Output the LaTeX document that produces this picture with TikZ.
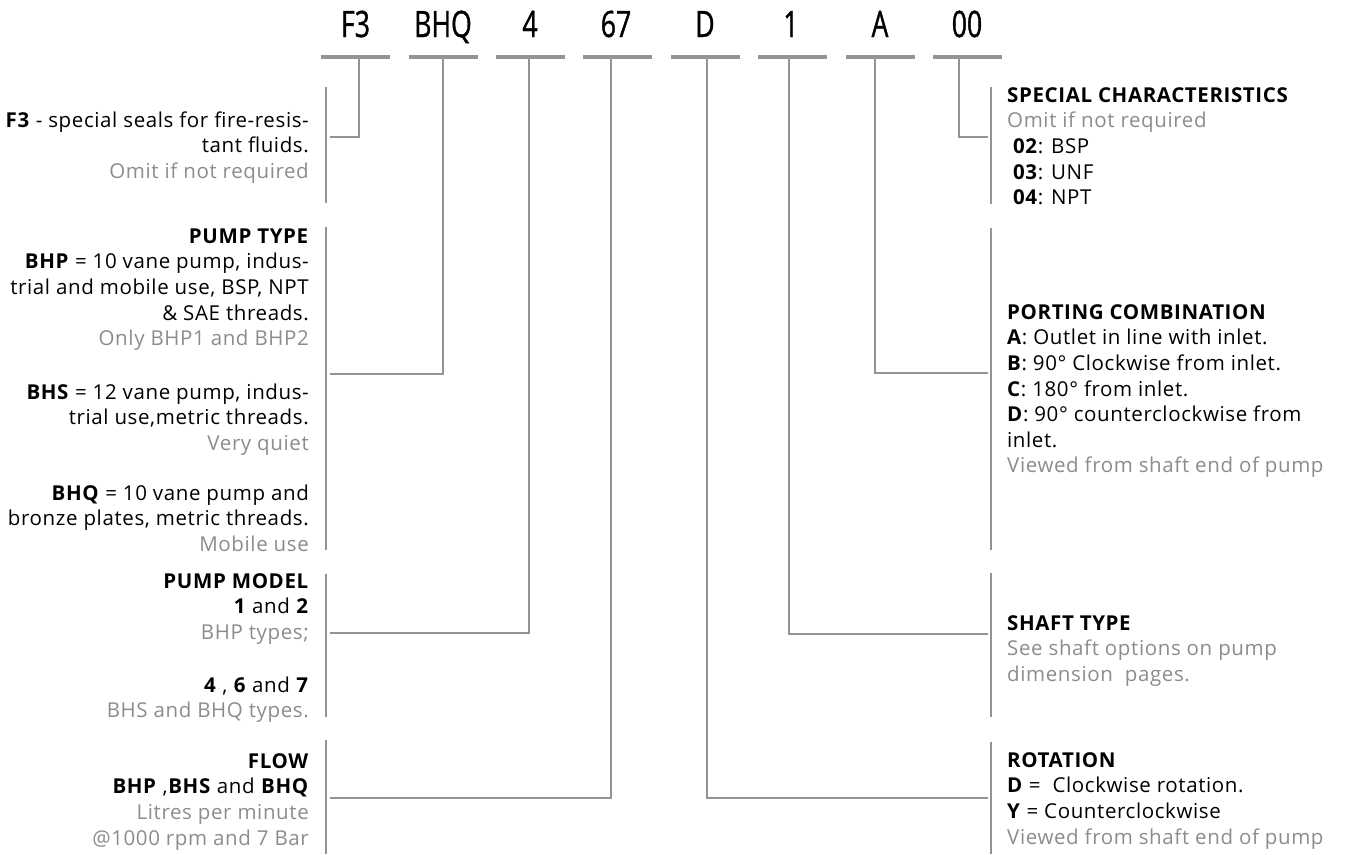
\documentclass[tikz,border=0pt]{standalone}
\usepackage{fontspec}
\setmainfont{Open Sans}[LetterSpace=3]
\newfontfamily\codefont{Open Sans}[FakeStretch=0.73,FakeBold=1]
\usepackage{tikz}
\definecolor{txtgrey}{HTML}{8C8C8C}
\definecolor{linegrey}{HTML}{949494}
\newcommand{\gr}[1]{\textcolor{txtgrey}{#1}}
\newcommand{\fl}{\rule{0pt}{16.5pt}}

\begin{document}
\begin{tikzpicture}[x=1pt,y=-1pt,
  code/.style={font=\codefont\fontsize{36.4}{40}\selectfont,anchor=base,inner sep=0pt},
  bar/.style={fill=linegrey,minimum width=69pt,minimum height=3.6pt,inner sep=0pt},
  wire/.style={draw=linegrey,line width=1.5pt},
  bracket/.style={draw=linegrey,line width=1.4pt},
  lefttext/.style={font=\fontsize{20.5}{25.6}\selectfont,align=right,anchor=north east,inner sep=0pt},
  righttext/.style={font=\fontsize{20.5}{25.6}\selectfont,align=left,anchor=north west,inner sep=0pt}]
  \useasboundingbox (0,0) rectangle (1349,854);

  \node[bar] (sealbar)  at (355.5,57) {};
  \node[bar] (typebar)  at (443,57) {};
  \node[bar] (modelbar) at (530,57) {};
  \node[bar] (flowbar)  at (617.5,57) {};
  \node[bar] (rotbar)   at (705,57) {};
  \node[bar] (shaftbar) at (792.5,57) {};
  \node[bar] (portbar)  at (880,57) {};
  \node[bar] (specbar)  at (967.5,57) {};

  \node[code] (seal)  at (355.5,37) {F3};
  \node[code] (type)  at (443,37) {BHQ};
  \node[code] (model) at (530,37) {4};
  \node[code] (flow)  at (616,37) {67};
  \node[code] (rot)   at (705,37) {D};
  \node[code] (shaft) at (791,37) {1};
  \node[code] (port)  at (880,37) {A};
  \node[code] (spec)  at (967,37) {00};

  \coordinate (sealend)  at (330,137);
  \coordinate (typeend)  at (330,374);
  \coordinate (modelend) at (330,633);
  \coordinate (flowend)  at (330,798);
  \coordinate (rotend)   at (988,798);
  \coordinate (shaftend) at (988,634);
  \coordinate (portend)  at (988,373);
  \coordinate (specend)  at (988,137);

  \path[wire]
    ([xshift=3.5pt]sealbar.south) |- (sealend)
    (typebar.south) |- (typeend)
    ([xshift=-1pt]modelbar.south) |- (modelend)
    ([xshift=-6.5pt]flowbar.south) |- (flowend)
    ([xshift=2pt]rotbar.south) |- (rotend)
    ([xshift=-3.5pt]shaftbar.south) |- (shaftend)
    ([xshift=-5pt]portbar.south) |- (portend)
    ([xshift=-8.5pt]specbar.south) |- (specend);

  \path[bracket]
    (326,87) -- (326,203)
    (326,227) -- (326,550)
    (326,574) -- (326,717)
    (326,740) -- (326,854)
    (991,87) -- (991,204)
    (991,228) -- (991,550)
    (991,573) -- (991,717)
    (991,742) -- (991,854);

  \node[lefttext] (sealtext) at (309,110.5)
    {\fl\textbf{F3} - special seals for fire-resis-\\tant fluids.\\\gr{Omit if not required}};
  \node[lefttext] (bhptext) at (309,226.5)
    {\fl\textbf{PUMP TYPE}\\\textbf{BHP} = 10 vane pump, indus-\\trial and mobile use, BSP, NPT\\\& SAE threads.\\\gr{Only BHP1 and BHP2}};
  \node[lefttext] (bhstext) at (309,382.5)
    {\fl\textbf{BHS} = 12 vane pump, indus-\\trial use,metric threads.\\\gr{Very quiet}};
  \node[lefttext] (bhqtext) at (309,483.5)
    {\fl\textbf{BHQ} = 10 vane pump and\\bronze plates, metric threads.\\\gr{Mobile use}};
  \node[lefttext] (modeltext) at (309,571.5)
    {\fl\textbf{PUMP MODEL}\\\textbf{1} and \textbf{2}\\\gr{BHP types;}};
  \node[lefttext] (bhsqtext) at (309,675.5)
    {\fl\textbf{4} , \textbf{6} and \textbf{7}\\\gr{BHS and BHQ types.}};
  \node[lefttext] (flowtext) at (309,751.5)
    {\fl\textbf{FLOW}\\\textbf{BHP} ,\textbf{BHS} and \textbf{BHQ}\\\gr{Litres per minute}\\\gr{@1000 rpm and 7 Bar}};

  \node[righttext] (spectext) at (1007,85.5)
    {\fl\textbf{SPECIAL CHARACTERISTICS}\\\gr{Omit if not required}\\\ \textbf{02}: BSP\\\ \textbf{03}: UNF\\\ \textbf{04}: NPT};
  \node[righttext] (porttext) at (1007,302.5)
    {\fl\textbf{PORTING COMBINATION}\\\textbf{A}: Outlet in line with inlet.\\\textbf{B}: 90° Clockwise from inlet.\\\textbf{C}: 180° from inlet.\\\textbf{D}: 90° counterclockwise from\\inlet.\\\gr{Viewed from shaft end of pump}};
  \node[righttext] (shafttext) at (1007,613.5)
    {\fl\textbf{SHAFT TYPE}\\\gr{See shaft options on pump}\\\gr{dimension~ pages.}};
  \node[righttext] (rottext) at (1007,750.5)
    {\fl\textbf{ROTATION}\\\textbf{D} =~ Clockwise rotation.\\\textbf{Y} = Counterclockwise\\\gr{Viewed from shaft end of pump}};
\end{tikzpicture}
\end{document}
